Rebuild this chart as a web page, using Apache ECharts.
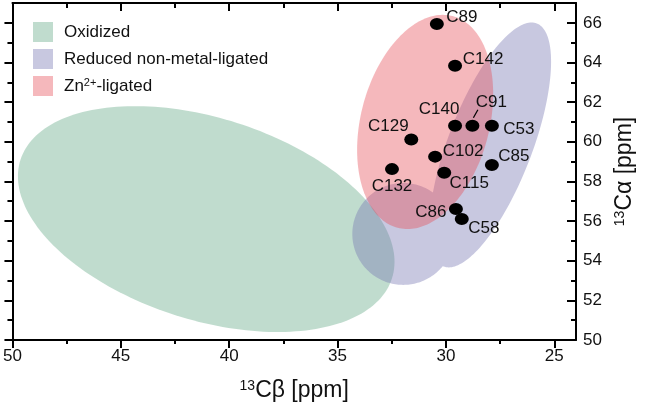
<!DOCTYPE html>
<html><head><meta charset="utf-8">
<script src="https://cdn.jsdelivr.net/npm/echarts@6/dist/echarts.min.js"></script>
<style>html,body{margin:0;padding:0;background:#fff}#c{width:645px;height:408px}</style>
</head><body><div id="c"></div>
<script>
// ---- data ----
const groupNames = ['Oxidized', 'Reduced non-metal-ligated', 'Zn2+-ligated'];
// region ellipses: [centre 13Cβ, centre 13Cα, semi-axis1 Δβ, Δα, semi-axis2 Δβ, Δα] (ppm)
const oxidizedRegions = [[41.06, 56.10, -8.57, -2.99, 1.42, -4.85]];
const reducedRegions = [[27.96, 59.84, -2.15, 6.13, -1.81, -0.76], [31.97, 55.35, 2.35, 0, 0, 2.57]];
const znRegions = [[30.96, 61.00, -1.27, 5.34, -2.87, -0.82]];
const residues = ['C89', 'C142', 'C140', 'C91', 'C53', 'C129', 'C102', 'C85', 'C132', 'C115', 'C86', 'C58'];
const cbShift = [30.42, 29.58, 29.58, 28.78, 27.88, 31.6, 30.5, 27.88, 32.49, 30.08, 29.54, 29.27];
const caShift = [65.94, 63.84, 60.81, 60.81, 60.81, 60.12, 59.25, 58.83, 58.62, 58.44, 56.61, 56.1];
const leaderResidues = ['C91'];
const xMajorTicks = [50, 45, 40, 35, 30, 25];
const xMinorTicks = [47.5, 42.5, 37.5, 32.5, 27.5];
const yMajorTicks = [50, 52, 54, 56, 58, 60, 62, 64, 66];
const yMinorTicks = [51, 53, 55, 57, 59, 61, 63, 65];

// ---- styling ----
const regionColors = ['rgba(97,167,132,0.4)', 'rgba(117,117,177,0.4)', 'rgba(230,77,87,0.4)'];
const labelOffsets = {
  C89: [25, -7], C142: [28, -6], C140: [-16, -16], C91: [19, -23], C53: [27, 4], C129: [-23, -13],
  C102: [28, -5], C85: [22, -9], C132: [0, 17], C115: [25, 11], C86: [-25, 3], C58: [22, 9]
};
const FONT = '"Liberation Sans", Arial, sans-serif';
const TXT = '#111';

function regionRenderer(regions) {
  return function (params, api) {
    if (params.dataIndex !== 0) return null;
    let d = '';
    regions.forEach(function (r) {
      const pts = [];
      const n = 200;
      for (let i = 0; i < n; i++) {
        const t = i / n * 2 * Math.PI;
        pts.push(api.coord([r[0] + Math.cos(t) * r[2] + Math.sin(t) * r[4],
                            r[1] + Math.cos(t) * r[3] + Math.sin(t) * r[5]]));
      }
      let area = 0;
      for (let i = 0; i < n; i++) {
        const a = pts[i], b = pts[(i + 1) % n];
        area += a[0] * b[1] - b[0] * a[1];
      }
      if (area < 0) pts.reverse();
      d += 'M' + pts.map(function (p) { return p[0].toFixed(2) + ' ' + p[1].toFixed(2); }).join('L') + 'Z';
    });
    return { type: 'path', shape: { pathData: d }, style: { fill: api.visual('color') } };
  };
}

function regionSeries(name, regions, color) {
  return {
    type: 'custom', name: name, xAxisIndex: 0, yAxisIndex: 0,
    itemStyle: { color: color },
    data: regions.map(function (r) { return [r[0], r[1]]; }),
    encode: { x: 0, y: 1 },
    renderItem: regionRenderer(regions),
    silent: true
  };
}

const pointData = residues.map(function (name, i) {
  return { name: name, value: [cbShift[i], caShift[i]], label: { offset: labelOffsets[name] } };
});
const leaderData = leaderResidues.map(function (name) {
  const i = residues.indexOf(name);
  return [cbShift[i], caShift[i]];
});

const axisCommonX = { type: 'value', inverse: true, min: 24, max: 50, splitLine: { show: false } };
const axisCommonY = { type: 'value', min: 50, max: 67, splitLine: { show: false } };
const lineStyle = { color: '#000', width: 2 };

const chart = echarts.init(document.getElementById('c'), null, { renderer: 'canvas' });
chart.setOption({
  animation: false,
  backgroundColor: '#fff',
  textStyle: { fontFamily: FONT },
  grid: { left: 12, right: 69, top: 3, bottom: 68, containLabel: false },
  legend: {
    orient: 'vertical', left: 33, top: 22, padding: 0,
    itemWidth: 20, itemHeight: 20, itemGap: 7, icon: 'rect',
    data: groupNames,
    formatter: function (n) { return n === 'Zn2+-ligated' ? 'Zn{sup|2+}-ligated' : n; },
    textStyle: {
      fontFamily: FONT, fontSize: 17, color: TXT, padding: [0, 0, 0, 6],
      rich: { sup: { fontFamily: FONT, fontSize: 11, color: TXT, verticalAlign: 'top', padding: [0, 0, 7, 0] } }
    }
  },
  xAxis: [
    Object.assign({}, axisCommonX, {
      position: 'bottom',
      axisLine: { show: true, onZero: false, lineStyle: lineStyle },
      axisTick: { show: true, inside: false, length: 8, lineStyle: { color: '#000', width: 2 }, customValues: xMajorTicks },
      axisLabel: { show: true, customValues: xMajorTicks, fontSize: 17, color: TXT, margin: 8, fontFamily: FONT },
      name: '{sup|13}Cβ [ppm]', nameLocation: 'middle', nameGap: 39,
      nameTextStyle: {
        fontSize: 23, color: TXT, fontFamily: FONT,
        rich: { sup: { fontSize: 14, color: TXT, fontFamily: FONT, verticalAlign: 'top', padding: [0, 0, 8, 0] } }
      }
    }),
    Object.assign({}, axisCommonX, {
      position: 'bottom',
      axisLine: { show: false, onZero: false },
      axisTick: { show: true, inside: false, length: 4, lineStyle: { color: '#000', width: 2 }, customValues: xMinorTicks },
      axisLabel: { show: false }
    }),
    Object.assign({}, axisCommonX, {
      position: 'top',
      axisLine: { show: true, onZero: false, lineStyle: lineStyle },
      axisTick: { show: true, inside: true, length: 8, lineStyle: { color: '#000', width: 2 }, customValues: xMajorTicks },
      axisLabel: { show: false }
    }),
    Object.assign({}, axisCommonX, {
      position: 'top',
      axisLine: { show: false, onZero: false },
      axisTick: { show: true, inside: true, length: 5, lineStyle: { color: '#000', width: 2 }, customValues: xMinorTicks },
      axisLabel: { show: false }
    })
  ],
  yAxis: [
    Object.assign({}, axisCommonY, {
      position: 'right',
      axisLine: { show: true, onZero: false, lineStyle: lineStyle },
      axisTick: { show: true, inside: true, length: 9, lineStyle: { color: '#000', width: 2 }, customValues: yMajorTicks },
      axisLabel: { show: true, customValues: yMajorTicks, fontSize: 17, color: TXT, margin: 7, fontFamily: FONT },
      name: '{sup|13}Cα [ppm]', nameLocation: 'middle', nameGap: 32, nameRotate: 90,
      nameTextStyle: {
        fontSize: 23, color: TXT, fontFamily: FONT,
        rich: { sup: { fontSize: 14, color: TXT, fontFamily: FONT, verticalAlign: 'top', padding: [0, 0, 8, 0] } }
      }
    }),
    Object.assign({}, axisCommonY, {
      position: 'right',
      axisLine: { show: false, onZero: false },
      axisTick: { show: true, inside: true, length: 5, lineStyle: { color: '#000', width: 2 }, customValues: yMinorTicks },
      axisLabel: { show: false }
    }),
    Object.assign({}, axisCommonY, {
      position: 'left',
      axisLine: { show: true, onZero: false, lineStyle: lineStyle },
      axisTick: { show: true, inside: false, length: 8, lineStyle: { color: '#000', width: 2 }, customValues: yMajorTicks },
      axisLabel: { show: false }
    }),
    Object.assign({}, axisCommonY, {
      position: 'left',
      axisLine: { show: false, onZero: false },
      axisTick: { show: true, inside: false, length: 5, lineStyle: { color: '#000', width: 2 }, customValues: yMinorTicks },
      axisLabel: { show: false }
    })
  ],
  series: [
    regionSeries(groupNames[0], oxidizedRegions, regionColors[0]),
    regionSeries(groupNames[1], reducedRegions, regionColors[1]),
    regionSeries(groupNames[2], znRegions, regionColors[2]),
    {
      type: 'scatter', name: 'residues', xAxisIndex: 0, yAxisIndex: 0,
      symbol: 'path://M-1,0A1,1,0,1,0,1,0A1,1,0,1,0,-1,0Z',
      symbolSize: [14, 12],
      itemStyle: { color: '#000', opacity: 1 },
      label: { show: true, position: 'inside', formatter: '{b}', fontSize: 17, color: TXT, fontFamily: FONT },
      data: pointData,
      z: 10
    },
    {
      type: 'custom', name: 'leader', xAxisIndex: 0, yAxisIndex: 0, silent: true, z: 12,
      data: leaderData, encode: { x: 0, y: 1 },
      renderItem: function (params, api) {
        const p = api.coord([api.value(0), api.value(1)]);
        return { type: 'polyline', z2: 100,
                 shape: { points: [[p[0] + 1, p[1] - 8], [p[0] + 5.5, p[1] - 16]] },
                 style: { stroke: '#000', lineWidth: 1.3, fill: null } };
      }
    }
  ]
});
</script>
</body></html>
